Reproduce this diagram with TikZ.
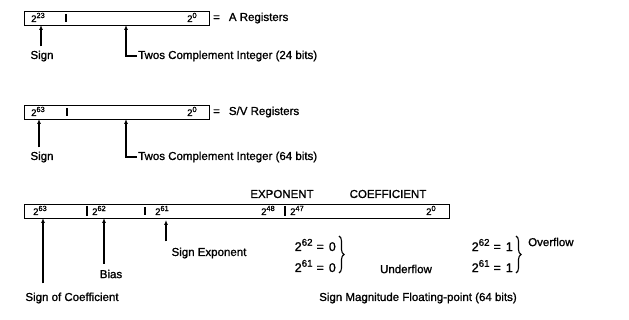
\documentclass[tikz,border=0pt]{standalone}
\usepackage{fontspec}
\setmainfont{Liberation Sans}[FakeBold=1.2]
\usetikzlibrary{arrows.meta,decorations.pathreplacing}
\newcommand{\pw}[2]{#1\raisebox{0.42em}{\fontsize{0.78em}{1em}\selectfont #2}}
\begin{document}
\begin{tikzpicture}[x=1pt,y=-1pt,
  reg/.style={draw,line width=1.4pt,inner sep=0pt,anchor=north west},
  lbl/.style={font=\fontsize{11.5}{13}\selectfont,inner sep=1pt},
  eqn/.style={font=\fontsize{12.5}{14}\selectfont,inner sep=1pt},
  bit/.style={font=\fontsize{9.5}{11}\selectfont,inner sep=0pt,anchor=base west},
  arr/.style={line width=1.1pt,-{Latex[length=5pt,width=4pt]}},
  divider/.style={line width=1.1pt},
  brc/.style={decorate,decoration={brace,amplitude=5pt},line width=1.1pt}]
\useasboundingbox (0,0) rectangle (629,320);

% ---------- A registers ----------
\node[reg,minimum width=185pt,minimum height=14pt] (boxA) at (24,11) {};
\draw[divider] (66,14) -- (66,22);
\node[bit] (a23) at (31,22) {\pw{2}{23}};
\node[bit] (a0) at (187,22) {\pw{2}{0}};
\node[lbl,anchor=west] (eqA) at (212,18) {=\hspace{9pt}A Registers};
\coordinate (pA1) at (41,25);
\coordinate (pA2) at (126,25);
\node[lbl] (signA) at (42,56) {Sign};
\node[lbl,anchor=west] (twA) at (137,56) {Twos Complement Integer (24 bits)};
\draw[arr,shorten <=3pt] (signA.north -| pA1) -- (pA1);
\draw[arr] (twA.west) -| (pA2);

% ---------- S/V registers ----------
\node[reg,minimum width=185pt,minimum height=14pt] (boxS) at (24,105) {};
\draw[divider] (67,108) -- (67,116);
\node[bit] (s63) at (31,116) {\pw{2}{63}};
\node[bit] (s0) at (187,116) {\pw{2}{0}};
\node[lbl,anchor=west] (eqS) at (212,112) {=\hspace{9pt}S/V Registers};
\coordinate (pS1) at (39,119);
\coordinate (pS2) at (126,119);
\node[lbl] (signS) at (42,157) {Sign};
\node[lbl,anchor=west] (twS) at (137,157) {Twos Complement Integer (64 bits)};
\draw[arr,shorten <=3pt] (signS.north -| pS1) -- (pS1);
\draw[arr] (twS.west) -| (pS2);

% ---------- Floating point ----------
\node[lbl] (expo) at (282,194) {EXPONENT};
\node[lbl] (coef) at (388,194) {COEFFICIENT};
\node[reg,minimum width=425pt,minimum height=14pt] (boxF) at (24,204) {};
\draw[divider] (87,206) -- (87,216);
\draw[divider] (145,207) -- (145,215);
\draw[divider] (285,206) -- (285,216);
\node[bit] (f63) at (33,215) {\pw{2}{63}};
\node[bit] (f62) at (92,215) {\pw{2}{62}};
\node[bit] (f61) at (155,215) {\pw{2}{61}};
\node[bit] (f48) at (261,215) {\pw{2}{48}};
\node[bit] (f47) at (290,215) {\pw{2}{47}};
\node[bit] (f0) at (426,215) {\pw{2}{0}};

\coordinate (pF1) at (43,218);
\coordinate (pF2) at (104,218);
\coordinate (pF3) at (166,220);
\node[lbl] (sgnc) at (72,298) {Sign of Coefficient};
\node[lbl] (bias) at (111,274) {Bias};
\node[lbl] (sgne) at (209,253) {Sign Exponent};
\draw[arr,shorten <=8pt] (sgnc.north -| pF1) -- (pF1);
\draw[arr,shorten <=5pt] (bias.north -| pF2) -- (pF2);
\draw[arr,shorten <=5pt] (sgne.north -| pF3) -- (pF3);

\node[eqn,anchor=east] (u62) at (337,245) {\pw{2}{62}\hspace{4pt}=\hspace{5pt}0};
\node[eqn,anchor=east] (u61) at (337,266) {\pw{2}{61}\hspace{4pt}=\hspace{5pt}0};
\draw[brc] (339,236) -- (339,273);
\node[lbl] (under) at (406,269) {Underflow};

\node[eqn,anchor=east] (o62) at (514,245) {\pw{2}{62}\hspace{4pt}=\hspace{5pt}1};
\node[eqn,anchor=east] (o61) at (514,266) {\pw{2}{61}\hspace{4pt}=\hspace{5pt}1};
\draw[brc] (516,236) -- (516,273);
\node[lbl,anchor=west] (over) at (527,242) {Overflow};

\node[lbl] (smfp) at (418,298) {Sign Magnitude Floating-point (64 bits)};
\end{tikzpicture}
\end{document}
